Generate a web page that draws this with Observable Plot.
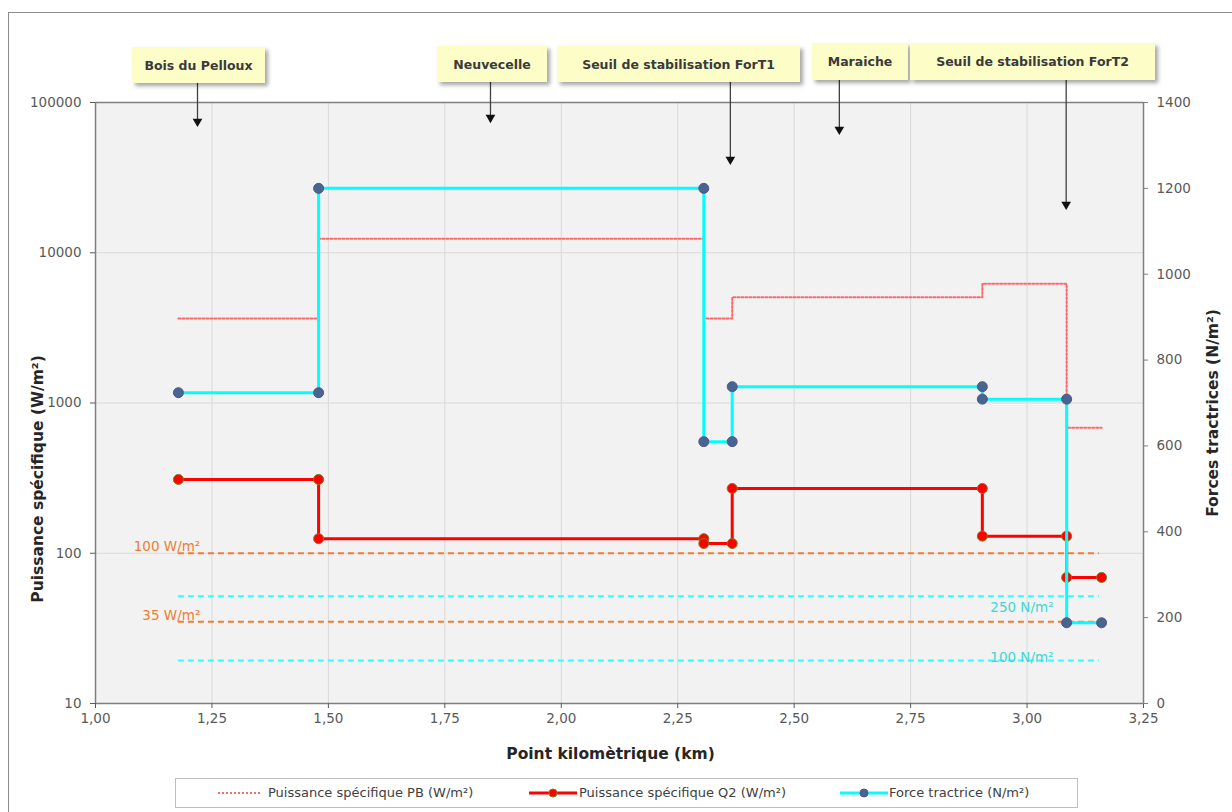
<!DOCTYPE html>
<html><head><meta charset="utf-8">
<script src="https://cdn.jsdelivr.net/npm/d3@7"></script>
<script src="https://cdn.jsdelivr.net/npm/@observablehq/plot@0.6"></script>
<style>
body{margin:0;background:#fff;font-family:"DejaVu Sans",sans-serif;}
#wrap{position:relative;width:1232px;height:812px;overflow:hidden;}
#outer{position:absolute;left:8px;top:12px;width:1300px;height:900px;border:1px solid #8c8c8c;box-sizing:border-box;}
#chart{position:absolute;left:0;top:0;}
.callout{position:absolute;background:#fdfdc8;box-shadow:3px 3px 4px rgba(0,0,0,0.35);font:bold 12.5px "DejaVu Sans";color:#3a3a3a;display:flex;align-items:center;justify-content:center;white-space:nowrap;}
#legend{position:absolute;left:175px;top:778px;width:903px;height:30px;border:1px solid #bfbfbf;box-sizing:border-box;background:#fff;}
.lt{position:absolute;top:0;height:28px;line-height:28px;font-size:13px;color:#404040;white-space:nowrap;}
.ls{position:absolute;top:0;}
</style></head>
<body><div id="wrap"><div id="outer"></div><div id="chart"></div></div>
<script>
// ---- data ----
const km = [1.178,1.479,1.479,2.306,2.306,2.367,2.367,2.904,2.904,3.085,3.085,3.16];
const pbValues = [3650,3650,12400,12400,3650,3650,5060,5060,6210,6210,684,684];
const q2Values = [310,310,125,125,116,116,270,270,130,130,69,69];
const forceValues = [724,724,1200,1200,610,610,738,738,709,709,188,188];
const powerThresholds = [100,35];
const powerThresholdLabels = ["100 W/m²","35 W/m²"];
const forceThresholds = [250,100];
const forceThresholdLabels = ["250 N/m²","100 N/m²"];
const thresholdSpan = [1.178,3.155];
const xTicks = [1,1.25,1.5,1.75,2,2.25,2.5,2.75,3,3.25];
const leftTicks = [10,100,1000,10000,100000];
const rightTicks = [0,200,400,600,800,1000,1200,1400];
const places = ["Bois du Pelloux","Neuvecelle","Seuil de stabilisation ForT1","Maraiche","Seuil de stabilisation ForT2"];
const placeKm = [1.219,1.848,2.363,2.597,3.084];
const placeArrowTip = [70300,74700,39300,62200,19700];
const seriesNames = ["Puissance spécifique PB (W/m²)","Puissance spécifique Q2 (W/m²)","Force tractrice (N/m²)"];

// ---- layout (not data) ----
const calloutBoxes = [[132,47,133,36],[437,46,110,36],[557,46,243,36],[812,43,96,37],[910,43,245,37]];
const powerLabelDy = [-7,-6];
const forceLabelDy = [11,-3];

// secondary axis (0..1400) mapped onto the primary log scale (10..100000)
const toLeft = v => Math.pow(10, 1 + 4 * v / 1400);
const idx = d3.range(km.length);
const xMax = 3.25, tickLen = 5 / 465.8;

const marks = [
  Plot.frame({fill:"#f2f2f2", stroke:null}),
  Plot.gridX({ticks: xTicks.slice(1,-1), stroke:"#d9d9d9", strokeOpacity:1}),
  Plot.gridY({ticks: [100,1000,10000], stroke:"#d9d9d9", strokeOpacity:1}),
  Plot.ruleY(powerThresholds, {y: d => d, x1: () => thresholdSpan[0], x2: () => thresholdSpan[1], stroke:"#ed7d31", strokeWidth:2, strokeDasharray:"6,4"}),
  Plot.ruleY(forceThresholds, {y: d => toLeft(d), x1: () => thresholdSpan[0], x2: () => thresholdSpan[1], stroke:"#33ffff", strokeWidth:2, strokeDasharray:"6,4"}),
];
powerThresholds.forEach((t,i) => marks.push(
  Plot.text([t], {x: () => 1.225, y: d => d, text: () => powerThresholdLabels[i], textAnchor:"end", dy: powerLabelDy[i], fill:"#ed7d31", fontSize:13.5})
));
forceThresholds.forEach((t,i) => marks.push(
  Plot.text([t], {x: () => 2.989, y: d => toLeft(d), text: () => forceThresholdLabels[i], textAnchor:"middle", dy: forceLabelDy[i], fill:"#3cd6d6", fontSize:13.5})
));
marks.push(
  Plot.line(idx, {x: i => km[i], y: i => pbValues[i], stroke:"#ff6868", strokeWidth:2, strokeDasharray:"2,2"}),
  Plot.line(idx, {x: i => km[i], y: i => q2Values[i], stroke:"#ff0000", strokeWidth:3}),
  Plot.dot(idx, {x: i => km[i], y: i => q2Values[i], r:5, fill:"#ff0000", stroke:"#7d7d1e", strokeWidth:1}),
  Plot.line(idx, {x: i => km[i], y: i => toLeft(forceValues[i]), stroke:"#00ffff", strokeWidth:3}),
  Plot.dot(idx, {x: i => km[i], y: i => toLeft(forceValues[i]), r:5, fill:"#46668f", stroke:"#5b4e90", strokeWidth:1}),
  Plot.frame({stroke:"#7f7f7f", strokeWidth:1.5}),
  Plot.axisX({ticks: xTicks, tickFormat: d => d.toFixed(2).replace(".", ","), tickSize:5, tickPadding:5, label:null}),
  Plot.axisY({ticks: leftTicks, tickFormat: d => String(d), tickSize:5, tickPadding:9, label:null}),
  // secondary (right) axis
  Plot.ruleY(rightTicks, {y: d => toLeft(d), x1: () => xMax, x2: () => xMax + tickLen, stroke:"#7f7f7f"}),
  Plot.text(rightTicks, {x: () => xMax, y: d => toLeft(d), text: d => String(d), dx: 13, textAnchor:"start", fill:"#595959", fontSize:13.5}),
  Plot.text(["Point kilomètrique (km)"], {frameAnchor:"bottom", dy:55, dx:-9, textAnchor:"middle", fontWeight:"bold", fontSize:15.5, fill:"#262626"}),
  Plot.text(["Puissance spécifique (W/m²)"], {frameAnchor:"left", dx:-57, dy:76, rotate:-90, textAnchor:"middle", fontWeight:"bold", fontSize:15.5, fill:"#262626"}),
  Plot.text(["Forces tractrices (N/m²)"], {frameAnchor:"right", dx:70, dy:10, rotate:-90, textAnchor:"middle", fontWeight:"bold", fontSize:15.5, fill:"#262626"}),
  Plot.ruleX(placeKm, {x: d => d, y1: () => 150000, y2: (d,i) => placeArrowTip[i], stroke:"#404040", strokeWidth:1.3}),
  Plot.dot(placeKm, {x: d => d, y: (d,i) => placeArrowTip[i], symbol:"triangle", rotate:180, r:3.6, fill:"#111", dy:-4})
);

const chart = Plot.plot({
  width: 1232, height: 770,
  marginLeft: 95, marginRight: 89, marginTop: 102, marginBottom: 67,
  style: {fontFamily:"DejaVu Sans", fontSize:"13.5px", color:"#595959", background:"transparent", overflow:"visible"},
  x: {domain: [1, 3.25]},
  y: {type:"log", domain: [10, 100000]},
  marks
});
document.getElementById("chart").appendChild(chart);

const wrap = document.getElementById("wrap");
places.forEach((p,i) => {
  const b = calloutBoxes[i];
  const d = document.createElement("div");
  d.className = "callout";
  d.style.left = b[0]+"px"; d.style.top = b[1]+"px"; d.style.width = b[2]+"px"; d.style.height = b[3]+"px";
  d.textContent = p;
  wrap.appendChild(d);
});

// legend
const lg = document.createElement("div");
lg.id = "legend";
const L = 175;
lg.innerHTML =
  `<svg class="ls" style="left:${217-L}px" width="42" height="28"><line x1="0" y1="14" x2="42" y2="14" stroke="#ff6868" stroke-width="2" stroke-dasharray="2,2"/></svg>` +
  `<span class="lt" style="left:${267-L}px">${seriesNames[0]}</span>` +
  `<svg class="ls" style="left:${528-L}px" width="48" height="28"><line x1="0" y1="14" x2="48" y2="14" stroke="#ff0000" stroke-width="3"/><circle cx="24" cy="14" r="4" fill="#ff0000" stroke="#7d7d1e"/></svg>` +
  `<span class="lt" style="left:${578-L}px">${seriesNames[1]}</span>` +
  `<svg class="ls" style="left:${839-L}px" width="48" height="28"><line x1="0" y1="14" x2="48" y2="14" stroke="#00ffff" stroke-width="3"/><circle cx="24" cy="14" r="4" fill="#46668f" stroke="#5b4e90"/></svg>` +
  `<span class="lt" style="left:${888-L}px">${seriesNames[2]}</span>`;
wrap.appendChild(lg);
</script>
</body></html>
